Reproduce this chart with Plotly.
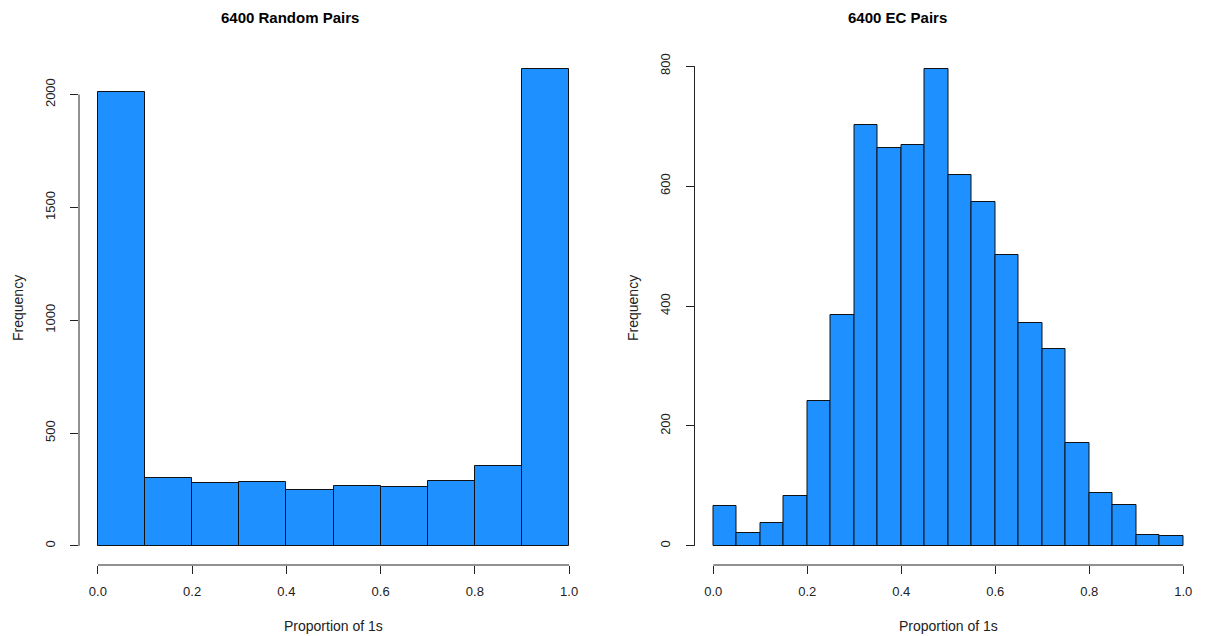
import numpy as np
import plotly.graph_objects as go
from plotly.subplots import make_subplots

# Histogram bin edges and counts for the two samples of 6400 pairs
random_edges = [0.0, 0.1, 0.2, 0.3, 0.4, 0.5, 0.6, 0.7, 0.8, 0.9, 1.0]
random_counts = [2010, 301, 278, 285, 248, 266, 261, 286, 352, 2113]

ec_edges = [0.0, 0.05, 0.1, 0.15, 0.2, 0.25, 0.3, 0.35, 0.4, 0.45, 0.5,
            0.55, 0.6, 0.65, 0.7, 0.75, 0.8, 0.85, 0.9, 0.95, 1.0]
ec_counts = [66, 21, 39, 84, 241, 385, 701, 664, 668, 795,
             618, 573, 485, 371, 328, 171, 89, 68, 18, 17]

x_ticks = [0.0, 0.2, 0.4, 0.6, 0.8, 1.0]
random_yticks = [0, 500, 1000, 1500, 2000]
ec_yticks = [0, 200, 400, 600, 800]

titles = ["6400 Random Pairs", "6400 EC Pairs"]
x_label = "Proportion of 1s"
y_label = "Frequency"

W, H = 1211, 636
BAR = "#1E90FF"
INK = "#222222"
FONT = "Liberation Sans, Arial, sans-serif"

fig = make_subplots(rows=1, cols=2)

panels = [
    (random_edges, random_counts, random_yticks, 1),
    (ec_edges, ec_counts, ec_yticks, 2),
]

for edges, counts, yticks, col in panels:
    e = np.asarray(edges)
    fig.add_trace(
        go.Bar(
            x=(e[:-1] + e[1:]) / 2,
            y=counts,
            width=np.diff(e),
            marker=dict(color=BAR, line=dict(color="#111111", width=1)),
            showlegend=False,
            hoverinfo="x+y",
        ),
        row=1, col=col,
    )
    ymax = max(counts)
    fig.update_xaxes(
        range=[-0.04, 1.04], tickvals=x_ticks, tickformat=".1f",
        ticks="outside", ticklen=8, tickcolor=INK, tickwidth=1,
        showgrid=False, zeroline=False, showline=False,
        ticklabelstandoff=6,
        tickfont=dict(family=FONT, size=13, color=INK),
        row=1, col=col,
    )
    fig.update_yaxes(
        range=[-0.04 * ymax, 1.04 * ymax], tickvals=yticks,
        ticks="outside", ticklen=8, tickcolor=INK, tickwidth=1,
        tickangle=-90, ticklabelstandoff=10,
        showgrid=False, zeroline=False, showline=False,
        tickfont=dict(family=FONT, size=13, color=INK),
        row=1, col=col,
    )

# R-style axis lines that run only between the outer tick marks
for i, yticks in zip(["", "2"], [random_yticks, ec_yticks]):
    fig.add_shape(type="line", xref="x" + i, yref="y" + i + " domain",
                  x0=x_ticks[0], x1=x_ticks[-1], y0=0, y1=0,
                  line=dict(color=INK, width=1))
    fig.add_shape(type="line", xref="x" + i + " domain", yref="y" + i,
                  x0=0, x1=0, y0=yticks[0], y1=yticks[-1],
                  line=dict(color=INK, width=1))

ydom = [(H - 565) / H, (H - 50) / H]
fig.update_layout(
    xaxis=dict(domain=[79 / W, 588 / W]),
    xaxis2=dict(domain=[694.5 / W, 1202 / W]),
    yaxis=dict(domain=ydom),
    yaxis2=dict(domain=ydom),
)

# Titles and axis labels
anns = []
for tx, lx, fx, title in [(290, 333, 18, titles[0]), (897, 948, 633, titles[1])]:
    anns.append(dict(text="<b>%s</b>" % title, x=tx / W, y=1 - 18 / H,
                     xref="paper", yref="paper", showarrow=False,
                     xanchor="center", yanchor="middle",
                     font=dict(family=FONT, size=15, color="#000000")))
    anns.append(dict(text=x_label, x=lx / W, y=1 - 626 / H,
                     xref="paper", yref="paper", showarrow=False,
                     xanchor="center", yanchor="middle",
                     font=dict(family=FONT, size=14, color=INK)))
    anns.append(dict(text=y_label, x=fx / W, y=1 - 308 / H, textangle=-90,
                     xref="paper", yref="paper", showarrow=False,
                     xanchor="center", yanchor="middle",
                     font=dict(family=FONT, size=14, color=INK)))

fig.update_layout(
    width=W, height=H,
    margin=dict(l=0, r=0, t=0, b=0),
    paper_bgcolor="white", plot_bgcolor="white",
    bargap=0,
    annotations=anns,
    font=dict(family=FONT),
)

fig.write_html("out.html")
